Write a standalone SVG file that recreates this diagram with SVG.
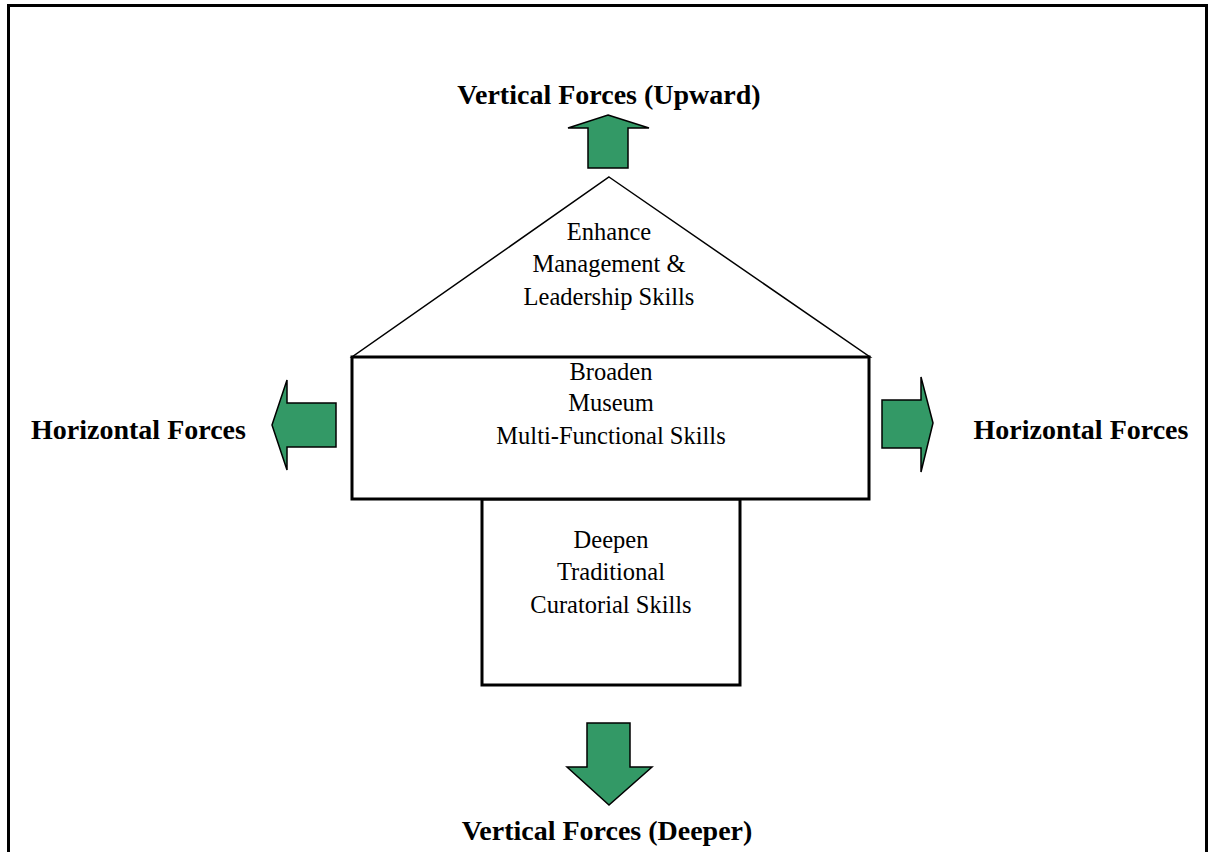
<svg xmlns="http://www.w3.org/2000/svg" width="1213" height="852" viewBox="0 0 1213 852">
  <style>
    .frame { fill: none; stroke: #000; stroke-width: 3; }
    .box { fill: #fff; stroke: #000; stroke-width: 3; }
    .roof { fill: #fff; stroke: #000; stroke-width: 1.5; }
    .arrow { fill: #339966; stroke: #000; stroke-width: 1.5; stroke-linejoin: miter; }
    .lbl { font-family: "Liberation Serif", "Times New Roman", serif; font-size: 24.5px; fill: #000; text-anchor: middle; }
    .force { font-family: "Liberation Serif", "Times New Roman", serif; font-size: 28px; font-weight: bold; fill: #000; text-anchor: middle; }
  </style>

  <rect width="1213" height="852" fill="#fff"/>
  <!-- outer border, runs off the bottom edge -->
  <rect class="frame" x="8.5" y="5.5" width="1198" height="900"/>

  <!-- force arrows -->
  <g id="connectors">
    <polygon class="arrow" points="608,115 649,128 628,128 628,168 588,168 588,128 568,128"/>
    <polygon class="arrow" points="587,723 630,723 630,767 652,767 609,805 567,767 587,767"/>
    <polygon class="arrow" points="272,425 287,380 287,403 336,403 336,447 287,447 287,470"/>
    <polygon class="arrow" points="933,423 921,377 921,400 882,400 882,448 921,448 921,472"/>
  </g>

  <g id="node-upward-label">
    <text class="force" x="609" y="104">Vertical Forces (Upward)</text>
  </g>
  <g id="node-left-label">
    <text class="force" x="138.5" y="439">Horizontal Forces</text>
  </g>
  <g id="node-right-label">
    <text class="force" x="1081" y="439">Horizontal Forces</text>
  </g>
  <g id="node-deeper-label">
    <text class="force" x="607" y="840">Vertical Forces (Deeper)</text>
  </g>

  <g id="node-management">
    <polygon class="roof" points="609,177 870,357 352,357"/>
    <text class="lbl" x="609" y="240">Enhance</text>
    <text class="lbl" x="609" y="272">Management &amp;</text>
    <text class="lbl" x="609" y="305">Leadership Skills</text>
  </g>

  <g id="node-traditional">
    <rect class="box" x="482" y="499" width="258" height="186"/>
    <text class="lbl" x="611" y="548">Deepen</text>
    <text class="lbl" x="611" y="580">Traditional</text>
    <text class="lbl" x="611" y="613">Curatorial Skills</text>
  </g>

  <g id="node-museum">
    <rect class="box" x="352" y="357" width="517" height="142"/>
    <text class="lbl" x="611" y="380">Broaden</text>
    <text class="lbl" x="611" y="411">Museum</text>
    <text class="lbl" x="611" y="444">Multi-Functional Skills</text>
  </g>
</svg>
